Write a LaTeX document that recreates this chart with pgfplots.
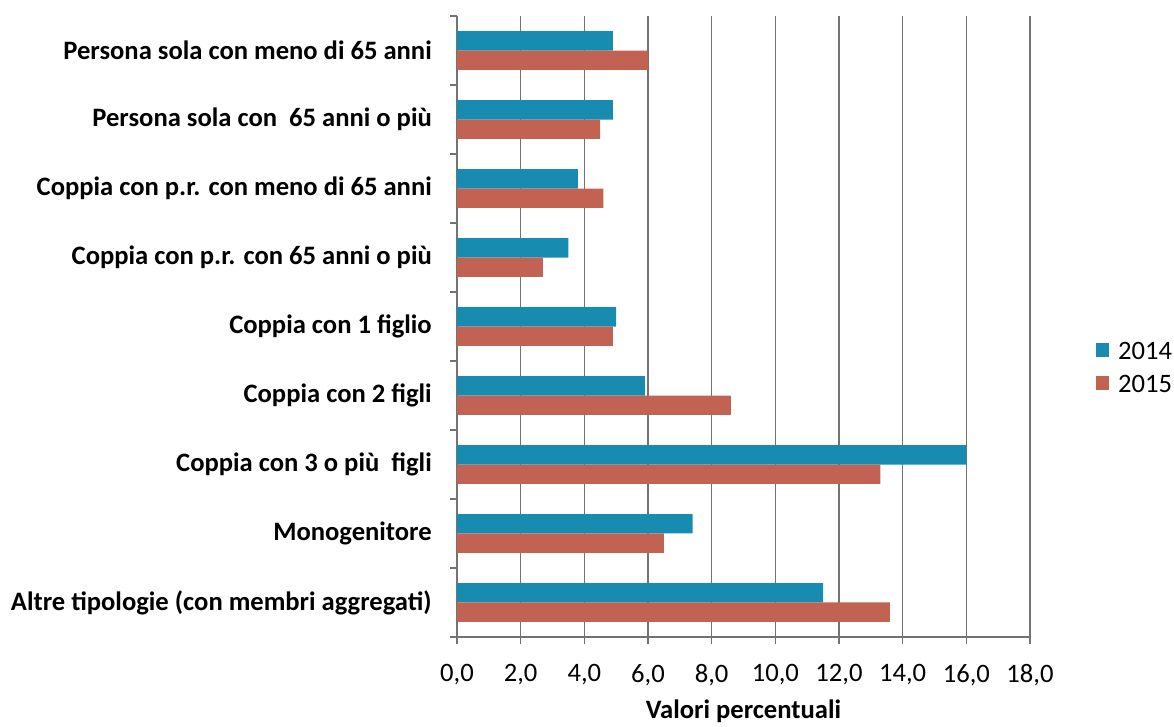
\documentclass[border=0pt]{standalone}
\usepackage{pgfplots}
\pgfplotsset{compat=1.18}
\usepackage{fontspec}
\setmainfont{Carlito}
\definecolor{c2014}{RGB}{24,139,176}
\definecolor{c2015}{RGB}{193,98,82}
\definecolor{gridc}{RGB}{115,115,115}
\begin{document}
\fontsize{13.3}{16}\selectfont
\begin{tikzpicture}
\useasboundingbox (-228.5pt,-45pt) rectangle (358.5pt,318.5pt);
\begin{axis}[
  scale only axis, width=286.5pt, height=310.5pt,
  xbar, bar width=9.65pt,
  xmin=0, xmax=18, ymin=-0.5, ymax=8.5,
  axis x line=bottom, axis y line=left,
  axis line style={-, draw=gridc, line width=0.6pt},
  tick style={draw=gridc, line width=0.6pt},
  tick align=outside, major tick length=3.5pt,
  xtick={0,2,...,18},
  /pgf/number format/assume math mode=true,
  xticklabel style={/pgf/number format/fixed, /pgf/number format/fixed zerofill,
    /pgf/number format/precision=1, /pgf/number format/use comma, yshift=-5.5pt},
  xmajorgrids, grid style={draw=gridc, line width=0.6pt},
  ytick={-0.5,0.5,...,8.5}, yticklabels={},
  extra y ticks={0,1,2,3,4,5,6,7,8},
  extra y tick labels={
    Altre tipologie (con membri aggregati),
    Monogenitore,
    Coppia con 3 o più\ \ figli,
    Coppia con 2 figli,
    Coppia con 1 figlio,
    Coppia con p.r. con 65 anni o più,
    Coppia con p.r. con meno di 65 anni,
    Persona sola con\ \ 65 anni o più,
    Persona sola con meno di 65 anni},
  extra y tick style={major tick length=0pt, yticklabel style={font=\bfseries, xshift=-8pt}},
  xlabel={\bfseries Valori percentuali},
  xlabel style={at={(axis description cs:0.5,-0.132)}, anchor=base},
  legend image code/.code={\fill[#1] (0pt,-3.3pt) rectangle (6.6pt,3.3pt);},
  legend style={draw=none, fill=none, at={(1.115,0.4356)}, anchor=west,
    inner sep=0pt, outer sep=0pt, row sep=7.5pt, column sep=4.5pt,
    nodes={inner sep=0pt, text height=9pt, text depth=0pt, anchor=west}},
]
% 2014
\addplot[fill=c2014, draw=none, bar shift=4.825pt] coordinates {
  (11.5,0) (7.4,1) (16.0,2) (5.9,3) (5.0,4) (3.5,5) (3.8,6) (4.9,7) (4.9,8)};
% 2015
\addplot[fill=c2015, draw=none, bar shift=-4.825pt] coordinates {
  (13.6,0) (6.5,1) (13.3,2) (8.6,3) (4.9,4) (2.7,5) (4.6,6) (4.5,7) (6.0,8)};
\legend{2014,2015}
\end{axis}
\end{tikzpicture}
\end{document}
